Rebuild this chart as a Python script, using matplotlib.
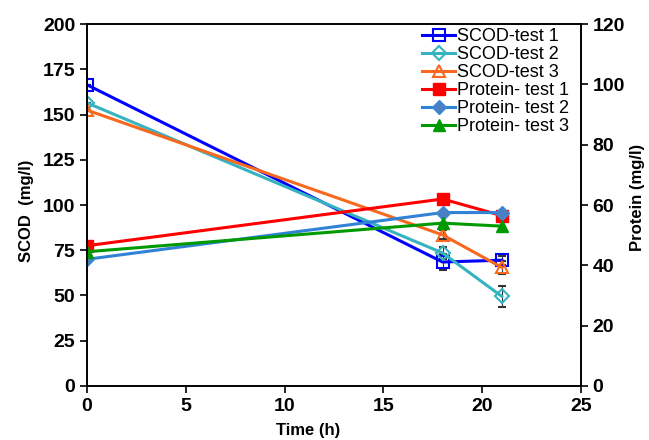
import numpy as np
import matplotlib
matplotlib.use('Agg')
import matplotlib.pyplot as plt
from matplotlib.lines import Line2D

plt.rcParams['font.family'] = ['Liberation Sans', 'DejaVu Sans']

time_h = [0, 18, 21]

scod_1 = [166.5, 68.5, 69.5]
scod_2 = [156.5, 73.5, 49.5]
scod_3 = [152.5, 83.5, 65.5]
scod_1_err = [0, 4.5, 2.5]
scod_2_err = [0, 3.5, 6.0]
scod_3_err = [0, 2.5, 3.5]

protein_1 = [46.5, 62.0, 56.5]
protein_2 = [42.0, 57.5, 57.5]
protein_3 = [44.5, 54.0, 53.0]

labels = ['SCOD-test 1', 'SCOD-test 2', 'SCOD-test 3',
          'Protein- test 1', 'Protein- test 2', 'Protein- test 3']

fig = plt.figure(figsize=(6.49, 4.4), dpi=100)
ax = fig.add_axes([0.134, 0.123, 0.761, 0.822])
ax2 = ax.twinx()

lw = 2.2
styles = [
    dict(color='#0000ff', marker='s', ms=8.5, mfc='none', mew=1.5),
    dict(color='#35b3c0', marker='D', ms=7, mfc='none', mew=1.5),
    dict(color='#f8691f', marker='^', ms=8.5, mfc='none', mew=1.5),
    dict(color='#ff0000', marker='s', ms=8.5),
    dict(color='#2f82d6', marker='D', ms=7, mfc='#4a7fc2', mec='#3a8ad8'),
    dict(color='#009a00', marker='^', ms=8.5),
]

# SCOD on the left axis, with error bars
for y, err, st in zip([scod_1, scod_2, scod_3],
                      [scod_1_err, scod_2_err, scod_3_err], styles[:3]):
    ax.errorbar(time_h, y, yerr=err, lw=lw, ecolor='#333333', elinewidth=0.8,
                capsize=3, **st)

# protein on the right axis
for y, st in zip([protein_1, protein_2, protein_3], styles[3:]):
    ax2.plot(time_h, y, lw=lw, **st)

ax.set_xlim(0, 25)
ax.set_ylim(0, 200)
ax2.set_ylim(0, 120)
ax.set_xticks(np.arange(0, 26, 5))
ax.set_yticks(np.arange(0, 201, 25))
ax2.set_yticks(np.arange(0, 121, 20))

for a in (ax, ax2):
    a.tick_params(direction='out', length=5, width=1.2, labelsize=14)
    for lab in a.get_xticklabels() + a.get_yticklabels():
        lab.set_fontweight('bold')
    for s in a.spines.values():
        s.set_linewidth(1.2)

ax.set_xlabel('Time (h)', fontsize=12, fontweight='bold', va='center')
ax.xaxis.set_label_coords(0.447, -0.124)
ax.set_ylabel('SCOD  (mg/l)', fontsize=12, fontweight='bold', va='center')
ax.yaxis.set_label_coords(-0.122, 0.483)
ax2.set_ylabel('Protein (mg/l)', fontsize=12, fontweight='bold', va='center')
ax2.yaxis.set_label_coords(1.115, 0.52)

handles = [Line2D([], [], lw=lw, **st) for st in styles]
ax2.legend(handles, labels, loc='upper right', frameon=False, fontsize=13,
           handlelength=1.8, handletextpad=0.1, labelspacing=0.05,
           borderaxespad=0.15, borderpad=0.3,
           bbox_to_anchor=(1.0 - 4 / 494, 1.0 + 4 / 362))

fig.savefig('out.png', dpi=100)
